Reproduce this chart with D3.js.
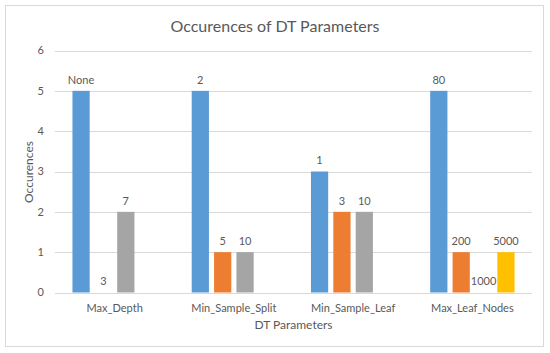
<!DOCTYPE html>
<html><head><meta charset="utf-8">
<script src="https://cdn.jsdelivr.net/npm/d3@7"></script>
<style>body{margin:0;background:#fff}svg{display:block}text{font-family:Lato,"Open Sans",sans-serif;fill:#595959}</style>
</head><body><svg id="c" width="550" height="353"></svg>
<script>
const categories = ["Max_Depth","Min_Sample_Split","Min_Sample_Leaf","Max_Leaf_Nodes"];
const seriesNames = ["s1","s2","s3","s4"];
const s1Values = [5,5,3,5];
const s2Values = [0,1,2,1];
const s3Values = [2,1,2,0];
const s4Values = [0,0,0,1];
const s1Labels = ["None","2","1","80"];
const s2Labels = ["3","5","3","200"];
const s3Labels = ["7","10","10","1000"];
const s4Labels = [null,null,null,"5000"];
const yTicks = [0,1,2,3,4,5,6];
const colors = ["#5B9BD5","#ED7D31","#A5A5A5","#FFC000"];

const values = [s1Values,s2Values,s3Values,s4Values];
const labels = [s1Labels,s2Labels,s3Labels,s4Labels];

const svg = d3.select("#c");
svg.append("rect").attr("x",5.5).attr("y",5.5).attr("width",538).attr("height",341)
  .attr("fill","#fff").attr("stroke","#D9D9D9");

const pLeft=55, pRight=532, pTop=50.5, pBottom=292.5;
const x = d3.scaleBand().domain(categories).range([pLeft,pRight]).paddingInner(0).paddingOuter(0);
const y = d3.scaleLinear().domain([0,6]).range([pBottom,pTop]);
const xs = d3.scaleBand().domain(seriesNames).range([0,x.bandwidth()]).paddingInner(0.23).paddingOuter(0.78);

svg.append("g").selectAll("line").data(yTicks).join("line")
  .attr("x1",pLeft).attr("x2",pRight).attr("y1",d=>Math.round(y(d))+0.5).attr("y2",d=>Math.round(y(d))+0.5)
  .attr("stroke","#D9D9D9").attr("stroke-width",1);

svg.append("g").selectAll("text").data(yTicks).join("text")
  .attr("x",44).attr("y",d=>y(d)).attr("dy","0.35em").attr("text-anchor","end")
  .attr("font-size",11).text(d=>d);

const data = [];
categories.forEach((c,i)=>seriesNames.forEach((s,j)=>data.push({c,s,j,v:values[j][i],l:labels[j][i]})));
svg.append("g").selectAll("rect").data(data.filter(d=>d.v>0)).join("rect")
  .attr("x",d=>x(d.c)+xs(d.s)).attr("width",xs.bandwidth())
  .attr("y",d=>y(d.v)).attr("height",d=>y(0)-y(d.v)).attr("fill",d=>colors[d.j]);

svg.append("g").selectAll("text").data(data.filter(d=>d.l!=null)).join("text")
  .attr("x",d=>x(d.c)+xs(d.s)+xs.bandwidth()/2).attr("y",d=>y(d.v)-11).attr("dy","0.35em")
  .attr("text-anchor","middle").attr("font-size",11).text(d=>d.l);

svg.append("g").selectAll("text").data(categories).join("text")
  .attr("x",d=>x(d)+x.bandwidth()/2).attr("y",308).attr("dy","0.35em")
  .attr("text-anchor","middle").attr("font-size",11).text(d=>d);

svg.append("text").attr("x",(pLeft+pRight)/2).attr("y",325).attr("dy","0.35em")
  .attr("text-anchor","middle").attr("font-size",12).text("DT Parameters");
svg.append("text").attr("transform","translate(29,172) rotate(-90)").attr("dy","0.35em")
  .attr("text-anchor","middle").attr("font-size",12).text("Occurences");
svg.append("text").attr("x",275).attr("y",26).attr("dy","0.35em")
  .attr("text-anchor","middle").attr("font-size",16).text("Occurences of DT Parameters");
</script></body></html>
